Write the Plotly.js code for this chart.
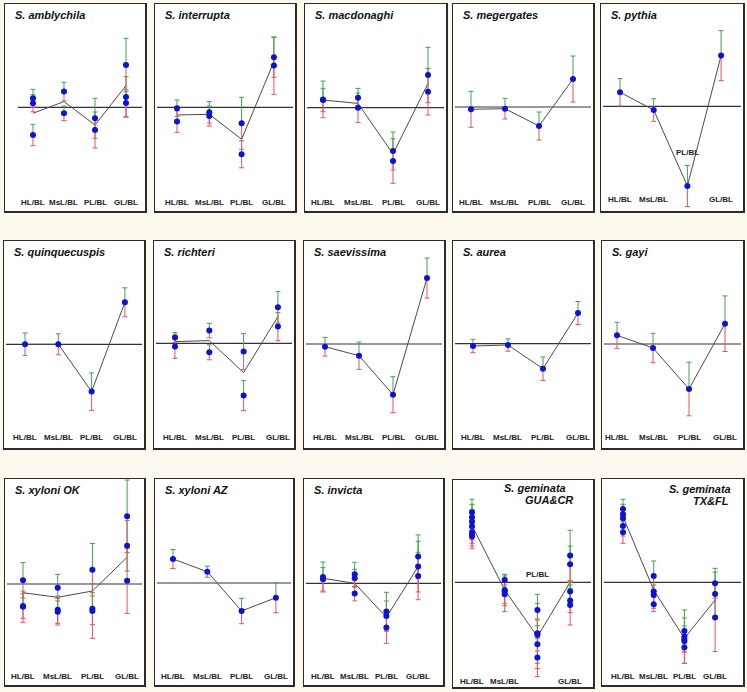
<!DOCTYPE html>
<html><head><meta charset="utf-8">
<script src="https://cdn.plot.ly/plotly-3.0.1.min.js"></script>
<style>html,body{margin:0;padding:0;background:#fdf9ee;} #chart{width:747px;height:692px;}</style>
</head><body><div id="chart"></div>
<script>
// ---------- data ----------
const categories = ["HL/BL", "MsL/BL", "PL/BL", "GL/BL"];
const speciesTitles = ["S. amblychila", "S. interrupta", "S. macdonaghi", "S. megergates", "S. pythia",
  "S. quinquecuspis", "S. richteri", "S. saevissima", "S. aurea", "S. gayi",
  "S. xyloni OK", "S. xyloni AZ", "S. invicta", "S. geminata GUA&CR", "S. geminata TX&FL"];

// mean line per ratio, colony points per ratio, and 95% CI half-widths per point
const amblychilaMean = [-0.6, 0.57, -1.77, 2.17];
const amblychilaPts  = [[0.9, 0.4, -2.77], [1.57, -0.6], [-1.1, -2.27], [4.23, 1.03, 0.43]];
const amblychilaCI   = [[0.9, 0.85, 1.07], [0.93, 0.73], [2.0, 1.8], [2.67, 2.03, 1.33]];

const interruptaMean = [-0.77, -0.7, -3.2, 4.57];
const interruptaPts  = [[-0.1, -1.43], [-0.5, -0.87], [-1.6, -4.7], [5.0, 4.17]];
const interruptaCI   = [[0.83, 1.07], [1.07, 1.0], [2.6, 1.35], [2.0, 2.87]];

const macdonaghiMean = [0.77, 0.43, -4.63, 2.43];
const macdonaghiPts  = [[0.83, 0.77], [1.0, 0.0], [-4.33, -5.33], [3.27, 1.6]];
const macdonaghiCI   = [[1.83, 1.17], [0.93, 1.47], [1.9, 2.23], [2.77, 2.33]];

const megergatesMean = [-0.23, -0.17, -1.9, 2.8];
const megergatesPts  = [[-0.23], [-0.17], [-1.9], [2.8]];
const megergatesCI   = [[1.8], [1.03], [1.4], [2.3]];

const pythiaMean = [1.4, -0.37, -7.97, 5.07];
const pythiaPts  = [[1.4], [-0.37], [-7.97], [5.07]];
const pythiaCI   = [[1.37], [1.13], [2.05], [2.5]];

const quinquecuspisMean = [0, 0, -4.73, 4.2];
const quinquecuspisPts  = [[0], [0], [-4.73], [4.2]];
const quinquecuspisCI   = [[1.13], [1.05], [1.87], [1.45]];

const richteriMean = [0.17, 0.27, -2.93, 2.67];
const richteriPts  = [[0.57, -0.33], [1.27, -0.9], [-0.83, -5.23], [3.6, 1.67]];
const richteriCI   = [[0.5, 1.17], [0.73, 0.75], [1.8, 1.5], [1.57, 1.4]];

const saevissimaMean = [-0.27, -1.17, -5.07, 6.6];
const saevissimaPts  = [[-0.27], [-1.17], [-5.07], [6.6]];
const saevissimaCI   = [[0.93], [1.37], [1.8], [2.0]];

const aureaMean = [-0.23, -0.13, -2.5, 3.07];
const aureaPts  = [[-0.23], [-0.13], [-2.5], [3.07]];
const aureaCI   = [[0.67], [0.62], [1.17], [1.15]];

const gayiMean = [0.87, -0.4, -4.5, 2.03];
const gayiPts  = [[0.87], [-0.4], [-4.5], [2.03]];
const gayiCI   = [[1.3], [1.47], [2.68], [2.78]];

const xyloniOKMean = [-0.87, -1.33, -0.7, 2.67];
const xyloniOKPts  = [[0.37, -2.2, -2.27], [-0.37, -2.57, -2.77], [1.43, -2.47, -2.7], [6.77, 3.83, 0.33]];
const xyloniOKCI   = [[1.77, 1.23, 1.57], [1.33, 1.37, 1.33], [2.63, 1.6, 2.73], [3.63, 2.53, 3.27]];

const xyloniAZMean = [2.4, 1.13, -2.8, -1.47];
const xyloniAZPts  = [[2.4], [1.13], [-2.8], [-1.47]];
const xyloniAZCI   = [[0.95], [0.55], [1.27], [1.5]];

const invictaMean = [0.5, 0.0, -3.4, 1.67];
const invictaPts  = [[0.63, 0.4], [0.9, 0.5, -1.03], [-2.83, -3.27, -4.43], [2.67, 1.67, 0.73]];
const invictaCI   = [[1.5, 1.17], [1.2, 0.9, 0.73], [1.93, 1.5, 1.57], [2.17, 2.53, 2.37]];

const geminataGCMean = [5.67, -0.77, -5.43, 0.0];
const geminataGCPts  = [[7.0, 6.5, 6.07, 5.57, 5.0, 4.73, 4.57], [0.23, -0.77, -0.93, -1.2],
                        [-2.77, -5.1, -5.27, -6.2, -7.53], [2.67, 1.8, -0.93, -1.83, -2.27]];
const geminataGCCI   = [[1.3, 1.3, 1.2, 1.33, 1.1, 1.1, 1.17], [0.5, 1.57, 1.17, 1.73],
                        [1.57, 3.0, 1.6, 2.43, 1.9], [2.53, 1.83, 1.1, 1.2, 2.0]];

const geminataTFMean = [6.57, -0.77, -5.6, -1.77];
const geminataTFPts  = [[7.33, 6.8, 6.4, 5.63, 5.0], [0.63, -0.93, -1.27, -2.2],
                        [-4.87, -5.43, -5.67, -5.87, -6.53], [-0.1, -1.17, -3.53]];
const geminataTFCI   = [[0.97, 1.0, 0.9, 1.0, 1.1], [1.5, 1.67, 1.0, 0.73],
                        [1.3, 2.67, 1.3, 1.1, 1.57], [1.5, 2.2, 3.4]];

const panelData = [
  [amblychilaMean, amblychilaPts, amblychilaCI],
  [interruptaMean, interruptaPts, interruptaCI],
  [macdonaghiMean, macdonaghiPts, macdonaghiCI],
  [megergatesMean, megergatesPts, megergatesCI],
  [pythiaMean, pythiaPts, pythiaCI],
  [quinquecuspisMean, quinquecuspisPts, quinquecuspisCI],
  [richteriMean, richteriPts, richteriCI],
  [saevissimaMean, saevissimaPts, saevissimaCI],
  [aureaMean, aureaPts, aureaCI],
  [gayiMean, gayiPts, gayiCI],
  [xyloniOKMean, xyloniOKPts, xyloniOKCI],
  [xyloniAZMean, xyloniAZPts, xyloniAZCI],
  [invictaMean, invictaPts, invictaCI],
  [geminataGCMean, geminataGCPts, geminataGCCI],
  [geminataTFMean, geminataTFPts, geminataTFCI]
];

// ---------- layout geometry (pixels) ----------
const W = 747, H = 692;
const frames = [ // left, top, right, bottom
  [5,4,145,211],[155,4,295,211],[305,4,446,211],[453,4,593,211],[601,4,743,211],
  [4,241,144,448],[154,241,294,448],[304,241,444,448],[453,241,593,448],[602,241,743,448],
  [5,479,144,685],[155,479,293,685],[304,479,443,685],[453,480,593,687],[602,479,743,685]
];
const zeroPx = [107.3,107.3,107.7,107,106.3, 344.3,343.3,344,343.7,344, 584,583,583.3,582.3,582.3];
const xRanges = [
  [-0.903,3.613],[-0.681,3.653],[-0.514,3.514],[-0.529,3.588],[-0.564,3.650],
  [-0.631,3.574],[-0.612,3.469],[-0.618,3.5],[-0.571,3.429],[-0.417,3.5],
  [-0.519,3.487],[-0.525,3.499],[-0.599,3.785],[-0.581,3.700],[-0.684,3.909]
];
const labelYpx = [202,202,202,202,200, 437,437,437,437,437, 676,676,676,681,676];
const PX_PER_UNIT = 10;

const FONT = 'Arial, "Liberation Sans", sans-serif';
const traces = [];
const layout = {
  width: W, height: H, margin: {l:0, r:0, t:0, b:0},
  paper_bgcolor: '#fdf9ee', plot_bgcolor: '#ffffff',
  showlegend: false, annotations: [], shapes: []
};

panelData.forEach((pd, i) => {
  const [mean, pts, ci] = pd;
  const s = i === 0 ? '' : String(i + 1);
  const xa = 'x' + s, ya = 'y' + s;
  const [L, T, R, B] = frames[i];
  const Z = zeroPx[i];
  layout['xaxis' + s] = {
    domain: [L / W, R / W], range: xRanges[i], type: 'category', categoryarray: categories,
    showline: true, mirror: true, linecolor: '#2b2b2b', linewidth: 1.5,
    showgrid: false, zeroline: false, showticklabels: false, ticks: '', anchor: ya, fixedrange: true
  };
  layout['yaxis' + s] = {
    domain: [1 - B / H, 1 - T / H], range: [-(B - Z) / PX_PER_UNIT, (Z - T) / PX_PER_UNIT],
    showline: true, mirror: true, linecolor: '#2b2b2b', linewidth: 1.5,
    showgrid: false, zeroline: false, showticklabels: false, ticks: '', anchor: xa, fixedrange: true
  };
  // zero reference line
  const zl = i === 0 ? [18, 142] : [L + 2, R - 2];
  layout.shapes.push({type: 'line', xref: 'paper', yref: ya, x0: zl[0] / W, x1: zl[1] / W, y0: 0, y1: 0,
    line: {color: '#333333', width: 1.2}, layer: 'below'});

  const xs = [], ys = [], es = [], zs = [];
  pts.forEach((arr, c) => arr.forEach((v, k) => {
    xs.push(categories[c]); ys.push(v); es.push(ci[c][k]); zs.push(0);
  }));
  // mean line
  traces.push({type: 'scatter', mode: 'lines', x: categories, y: mean, xaxis: xa, yaxis: ya,
    line: {color: '#4a4a4a', width: 1}, hoverinfo: 'skip'});
  // upper CI (green)
  traces.push({type: 'scatter', mode: 'markers', x: xs, y: ys, xaxis: xa, yaxis: ya,
    marker: {size: 4, color: 'rgba(0,0,0,0)'},
    error_y: {type: 'data', symmetric: false, array: es, arrayminus: zs, color: '#45a04f', thickness: 1, width: 2.5},
    hoverinfo: 'skip'});
  // lower CI (red)
  traces.push({type: 'scatter', mode: 'markers', x: xs, y: ys, xaxis: xa, yaxis: ya,
    marker: {size: 4, color: 'rgba(0,0,0,0)'},
    error_y: {type: 'data', symmetric: false, array: zs, arrayminus: es, color: '#e8545a', thickness: 1, width: 2.5},
    hoverinfo: 'skip'});
  // colony points
  traces.push({type: 'scatter', mode: 'markers', x: xs, y: ys, xaxis: xa, yaxis: ya,
    marker: {size: 6, color: '#0b14d6'}, hoverinfo: 'skip'});

  // category labels
  categories.forEach((cat, c) => {
    let yp = labelYpx[i];
    if (i === 4 && c === 2) yp = 153;
    if (i === 13 && c === 2) yp = 574;
    layout.annotations.push({xref: xa, yref: 'paper', x: c, y: 1 - yp / H, text: '<b>' + cat + '</b>',
      showarrow: false, xanchor: 'center', yanchor: 'middle',
      font: {family: FONT, size: 8, color: '#222222'}});
  });

  // titles
  const tFont = {family: FONT, size: 11, color: '#111111'};
  if (i === 13 || i === 14) {
    const parts = speciesTitles[i].split(' ');
    const line1 = parts[0] + ' ' + parts[1], line2 = parts[2];
    const pos = i === 13 ? [[502, 488, 'left'], [523, 500, 'left']] : [[733, 489, 'right'], [731, 501, 'right']];
    pos.forEach((p, k) => {
      layout.annotations.push({xref: 'paper', yref: 'paper', x: p[0] / W, y: 1 - p[1] / H,
        text: '<b><i>' + (k === 0 ? line1 : line2) + '</i></b>', showarrow: false,
        xanchor: p[2], yanchor: 'middle', font: tFont});
    });
  } else {
    layout.annotations.push({xref: 'paper', yref: 'paper', x: (L + 8) / W, y: 1 - (T + 11) / H,
      text: '<b><i>' + speciesTitles[i] + '</i></b>', showarrow: false, xanchor: 'left', yanchor: 'middle', font: tFont});
  }
});

Plotly.newPlot('chart', traces, layout, {staticPlot: true, displayModeBar: false});
</script>
</body></html>
